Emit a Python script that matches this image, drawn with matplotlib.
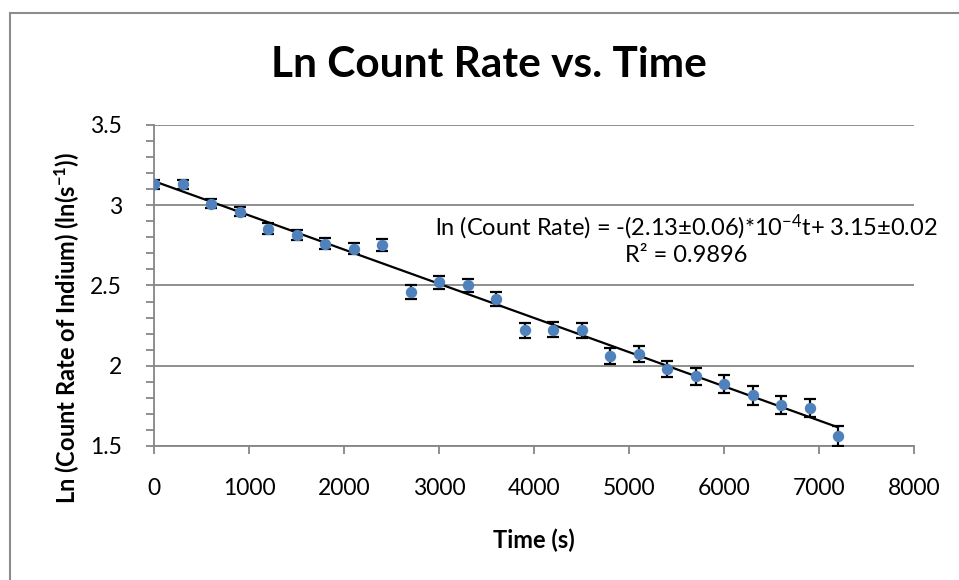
import matplotlib
matplotlib.use("Agg")
import matplotlib.pyplot as plt
import numpy as np
from matplotlib.patches import Rectangle
from matplotlib.ticker import MultipleLocator

plt.rcParams['font.family'] = ['Lato', 'DejaVu Sans']
plt.rcParams['mathtext.fontset'] = 'custom'
plt.rcParams['mathtext.rm'] = 'Lato'
plt.rcParams['mathtext.bf'] = 'Lato:bold'
plt.rcParams['mathtext.it'] = 'Lato:italic'

# ---- data ----
times = [0, 300, 600, 900, 1200, 1500, 1800, 2100, 2400, 2700, 3000, 3300, 3600,
         3900, 4200, 4500, 4800, 5100, 5400, 5700, 6000, 6300, 6600, 6900, 7200]
ln_rate = [3.13, 3.13, 3.01, 2.96, 2.855, 2.815, 2.76, 2.73, 2.75, 2.46, 2.52, 2.50, 2.415,
           2.22, 2.225, 2.22, 2.06, 2.075, 1.98, 1.935, 1.885, 1.815, 1.755, 1.735, 1.565]
ln_err = [0.027, 0.027, 0.030, 0.030, 0.032, 0.033, 0.035, 0.035, 0.037, 0.042, 0.041, 0.042, 0.042,
          0.048, 0.047, 0.047, 0.052, 0.051, 0.050, 0.052, 0.055, 0.057, 0.058, 0.057, 0.0625]
fit_slope = -2.13e-4
fit_intercept = 3.15
x_ticks = [0, 1000, 2000, 3000, 4000, 5000, 6000, 7000, 8000]
y_ticks = [1.5, 2.0, 2.5, 3.0, 3.5]
y_tick_labels = ['1.5', '2', '2.5', '3', '3.5']

W, H = 959, 580
fig = plt.figure(figsize=(W / 100, H / 100), dpi=100)

# outer chart border
fig.patches.append(Rectangle((10 / W, -0.1), 1.2, 1 - 13 / H + 0.1, transform=fig.transFigure,
                             fill=False, edgecolor='#8c8c8c', linewidth=1.5, zorder=0))

ax = fig.add_axes([154 / W, 1 - 446 / H, (914 - 154) / W, (446 - 125) / H])
ax.set_xlim(0, 8000)
ax.set_ylim(1.5, 3.5)

grey = '#868686'
ax.set_yticks(y_ticks)
ax.set_yticklabels(y_tick_labels)
ax.set_xticks(x_ticks)
ax.yaxis.set_minor_locator(MultipleLocator(0.1))
ax.grid(axis='y', which='major', color=grey, linewidth=1.3)
ax.set_axisbelow(True)
for s in ['top', 'right']:
    ax.spines[s].set_visible(False)
for s in ['left', 'bottom']:
    ax.spines[s].set_color(grey)
    ax.spines[s].set_linewidth(1.3)
ax.tick_params(axis='both', which='both', color=grey, width=1.3, labelsize=16.5, labelcolor='black')
ax.tick_params(axis='y', which='both', length=6, pad=17)
ax.tick_params(axis='x', which='major', length=6, pad=17)

# trendline
tfit = np.array([times[0], times[-1]])
ax.plot(tfit, fit_intercept + fit_slope * tfit, color='black', linewidth=1.6, zorder=3)

ax.errorbar(times, ln_rate, yerr=ln_err, fmt='o', color='#4f81bd', markersize=7.2,
            ecolor='black', elinewidth=1.6, capsize=4, capthick=1.6, zorder=4)

ax.text(0.700, 0.68, r'ln (Count Rate) = -(2.13±0.06)*10$^{-4}$t+ 3.15±0.02',
        transform=ax.transAxes, ha='center', va='center', fontsize=17)
ax.text(0.700, 0.595, 'R² = 0.9896', transform=ax.transAxes,
        ha='center', va='center', fontsize=17)

fig.text(489 / W, 1 - 77 / H, 'Ln Count Rate vs. Time', ha='center', va='baseline',
         fontsize=30.5, fontweight='bold')
fig.text(534 / W, 1 - 540 / H, 'Time (s)', ha='center', va='center',
         fontsize=17, fontweight='bold')
fig.text(67 / W, 1 - 152 / H, r'Ln (Count Rate of Indium) (ln(s$^{\mathbf{-1}}$))', ha='center',
         va='top', rotation=90, fontsize=17, fontweight='bold')

fig.savefig('out.png', dpi=100)
